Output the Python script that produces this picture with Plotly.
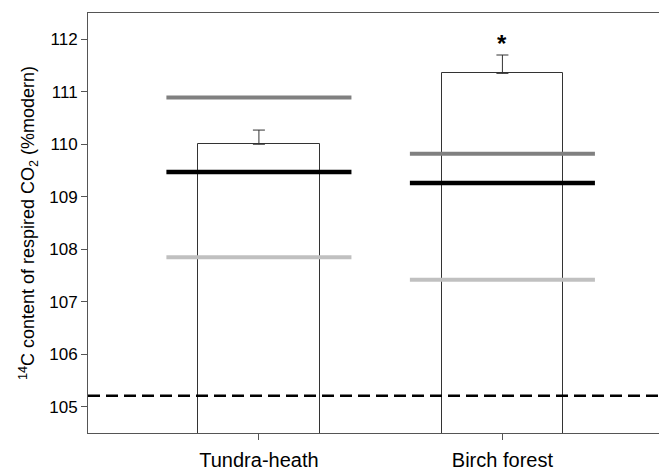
import plotly.graph_objects as go

categories = ["Tundra-heath", "Birch forest"]
bar_values = [110.0, 111.35]
bar_errors = [0.27, 0.35]
dark_gray_line = [110.89, 109.82]
black_line = [109.47, 109.26]
light_gray_line = [107.85, 107.42]
dashed_ref = 105.21
significance = ["", "*"]
yticks = [105, 106, 107, 108, 109, 110, 111, 112]

xpos = list(range(len(categories)))
half = 0.38

fig = go.Figure()
fig.add_trace(go.Bar(
    x=xpos, y=bar_values, width=0.5,
    marker=dict(color="white", line=dict(color="#333333", width=1)),
    error_y=dict(type="data", array=bar_errors, arrayminus=[0, 0], symmetric=False,
                 color="#333333", thickness=1, width=6),
    showlegend=False,
))

def hlines(vals, color, width):
    xs, ys = [], []
    for i, v in enumerate(vals):
        xs += [xpos[i] - half, xpos[i] + half, None]
        ys += [v, v, None]
    fig.add_trace(go.Scatter(x=xs, y=ys, mode="lines",
                             line=dict(color=color, width=width),
                             showlegend=False, hoverinfo="skip"))

hlines(dark_gray_line, "#808080", 4)
hlines(black_line, "#000000", 4.5)
hlines(light_gray_line, "#c0c0c0", 4)

fig.add_shape(type="line", xref="paper", yref="y", x0=0, x1=1, y0=dashed_ref, y1=dashed_ref,
              line=dict(color="black", width=2.5, dash="12px,6px"))

for i, s in enumerate(significance):
    if s:
        fig.add_annotation(x=xpos[i], y=bar_values[i] + bar_errors[i], text="<b>" + s + "</b>",
                           showarrow=False, yshift=12,
                           font=dict(size=24, color="black",
                                     family="Liberation Sans, Arial, sans-serif"))

# page body has an 8px default margin, so the figure is sized to end at the window edge
fig.update_layout(
    width=659, height=462,
    margin=dict(l=80, r=0, t=5, b=37),
    plot_bgcolor="white", paper_bgcolor="white",
    font=dict(family="Liberation Sans, Arial, sans-serif", color="black", size=17),
    bargap=0,
)
fig.update_xaxes(range=[-0.702, 1.676], tickvals=xpos, ticktext=categories,
                 showline=True, linecolor="#555555", linewidth=1, mirror=True,
                 ticks="outside", ticklen=6, tickcolor="#555555", showgrid=False,
                 zeroline=False, tickfont=dict(size=20), ticklabelstandoff=3)
fig.update_yaxes(range=[104.5, 112.5], tickvals=yticks,
                 showline=True, linecolor="#555555", linewidth=1,
                 ticks="outside", ticklen=6, tickcolor="#555555", showgrid=False,
                 zeroline=False, tickfont=dict(size=17),
                 title=dict(text="<sup>14</sup>C content of respired CO<sub>2</sub> (%modern)",
                            font=dict(size=18), standoff=9))

fig.write_html("out.html")
